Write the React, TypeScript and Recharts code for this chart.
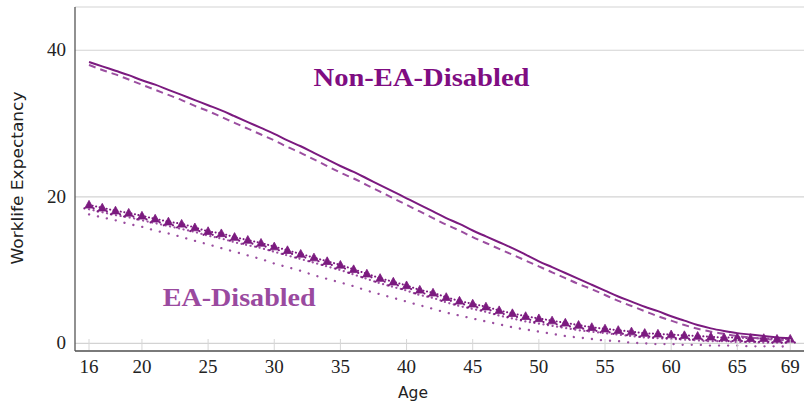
import React from 'react';
import { LineChart, Line, XAxis, YAxis, CartesianGrid, ReferenceDot } from 'recharts';

const ages = [16, 17, 18, 19, 20, 21, 22, 23, 24, 25, 26, 27, 28, 29, 30, 31, 32, 33, 34, 35, 36, 37, 38, 39, 40, 41, 42, 43, 44, 45, 46, 47, 48, 49, 50, 51, 52, 53, 54, 55, 56, 57, 58, 59, 60, 61, 62, 63, 64, 65, 66, 67, 68, 69];

const nonEaSolid = [38.4, 37.8, 37.2, 36.6, 35.9, 35.3, 34.6, 33.9, 33.2, 32.5, 31.8, 31.0, 30.2, 29.4, 28.6, 27.7, 26.9, 26.0, 25.1, 24.2, 23.4, 22.5, 21.6, 20.7, 19.8, 18.9, 18.0, 17.1, 16.3, 15.4, 14.6, 13.8, 13.0, 12.1, 11.2, 10.4, 9.6, 8.8, 8.0, 7.2, 6.4, 5.7, 5.0, 4.4, 3.7, 3.1, 2.5, 2.05, 1.7, 1.4, 1.2, 1.0, 0.8, 0.7];

const nonEaDashed = [38.0, 37.3, 36.7, 36.0, 35.3, 34.6, 33.9, 33.2, 32.4, 31.7, 30.9, 30.1, 29.3, 28.5, 27.7, 26.8, 26.0, 25.1, 24.2, 23.3, 22.5, 21.6, 20.7, 19.8, 18.9, 18.0, 17.1, 16.2, 15.4, 14.5, 13.7, 12.9, 12.1, 11.3, 10.5, 9.7, 8.9, 8.1, 7.4, 6.6, 5.8, 5.1, 4.4, 3.7, 3.1, 2.5, 2.0, 1.6, 1.3, 1.0, 0.8, 0.6, 0.5, 0.4];

const eaMarked = [18.9, 18.5, 18.1, 17.8, 17.4, 17.0, 16.6, 16.3, 15.8, 15.3, 15.0, 14.5, 14.1, 13.7, 13.2, 12.7, 12.2, 11.7, 11.2, 10.7, 10.1, 9.5, 8.9, 8.4, 7.9, 7.3, 6.9, 6.3, 5.8, 5.4, 5.0, 4.5, 4.1, 3.7, 3.4, 3.1, 2.8, 2.5, 2.2, 2.0, 1.8, 1.6, 1.4, 1.3, 1.2, 1.1, 1.0, 0.9, 0.8, 0.8, 0.7, 0.7, 0.6, 0.6];

const eaMid = [18.3, 17.9, 17.5, 17.2, 16.8, 16.4, 16.0, 15.6, 15.2, 14.7, 14.3, 13.8, 13.4, 13.0, 12.5, 12.0, 11.5, 11.0, 10.5, 10.0, 9.4, 8.8, 8.2, 7.7, 7.2, 6.6, 6.2, 5.6, 5.1, 4.7, 4.3, 3.8, 3.4, 3.0, 2.7, 2.4, 2.1, 1.8, 1.6, 1.4, 1.2, 1.0, 0.8, 0.7, 0.6, 0.5, 0.4, 0.3, 0.3, 0.2, 0.2, 0.1, 0.1, 0.1];

const eaLow = [17.6, 17.2, 16.8, 16.3, 15.9, 15.4, 15.0, 14.5, 14.0, 13.5, 13.0, 12.5, 12.0, 11.5, 10.9, 10.4, 9.9, 9.3, 8.8, 8.3, 7.8, 7.2, 6.7, 6.2, 5.7, 5.2, 4.7, 4.2, 3.8, 3.4, 3.0, 2.6, 2.2, 1.9, 1.6, 1.3, 1.0, 0.8, 0.6, 0.4, 0.3, 0.1, 0.0, -0.1, -0.1, -0.2, -0.2, -0.3, -0.3, -0.3, -0.4, -0.4, -0.4, -0.5];

const xTicks = [16, 20, 25, 30, 35, 40, 45, 50, 55, 60, 65, 69];
const yTicks = [0, 20, 40];

const nonEaLabel = { text: 'Non-EA-Disabled', age: 41.13, value: 35.1 };
const eaLabel = { text: 'EA-Disabled', age: 27.35, value: 5.1 };

const data = ages.map((age, i) => ({
  age,
  nonEaSolid: nonEaSolid[i],
  nonEaDashed: nonEaDashed[i],
  eaMarked: eaMarked[i],
  eaMid: eaMid[i],
  eaLow: eaLow[i],
}));

const DARK = '#7b1a7f';
const LIGHT = '#9b4ea0';
const TICK_FONT = "'Liberation Serif', 'DejaVu Serif', serif";
const SANS = "'DejaVu Sans', sans-serif";

const BottomTick = (props: any) => {
  const { x, y, payload } = props;
  return (
    <g>
      <line x1={x} x2={x} y1={y - 1} y2={y - 12} stroke="#d6d6d6" strokeWidth={1} />
      <text x={x} y={y + 22} textAnchor="middle" style={{ fontFamily: TICK_FONT, fontSize: 19 }} fill="#222">
        {payload.value}
      </text>
    </g>
  );
};

const TopTick = (props: any) => {
  const { x, y } = props;
  return <line x1={x} x2={x} y1={y + 1} y2={y + 11} stroke="#d6d6d6" strokeWidth={1} />;
};

const LeftTick = (props: any) => {
  const { x, y, payload } = props;
  return (
    <text x={x - 9} y={y + 6} textAnchor="end" style={{ fontFamily: TICK_FONT, fontSize: 19 }} fill="#222">
      {payload.value}
    </text>
  );
};

const TriangleDot = (props: any) => {
  const { cx, cy, index } = props;
  if (cx == null || cy == null) return <g key={`t-${index}`} />;
  const d = `M${cx},${cy - 4.5} L${cx + 4.2},${cy + 3.2} L${cx - 4.2},${cy + 3.2} Z`;
  return (
    <g key={`t-${index}`}>
      <path d={d} fill={DARK} stroke={DARK} strokeWidth={0.8} strokeLinejoin="round" />
      <circle cx={cx - 4.6} cy={cy + 3.6} r={1.1} fill={DARK} />
      <circle cx={cx + 4.6} cy={cy + 3.6} r={1.1} fill={DARK} />
    </g>
  );
};

const annotation = (text: string, color: string, len: number) => (props: any) => {
  const vb = props.viewBox || {};
  const cx = vb.x + (vb.width || 0) / 2;
  const cy = vb.y + (vb.height || 0) / 2;
  return (
    <text
      x={cx}
      y={cy}
      textAnchor="middle"
      style={{ fontFamily: "'Liberation Serif', serif", fontWeight: 'bold', fontSize: 25 }}
      fill={color}
      textLength={len}
      lengthAdjust="spacingAndGlyphs"
    >
      {text}
    </text>
  );
};

const YLabel = (props: any) => {
  const vb = props.viewBox || { x: 0, y: 7, width: 75, height: 344 };
  const x = vb.x + 18;
  const y = vb.y + vb.height / 2 - 1;
  return (
    <text
      x={x}
      y={y}
      transform={`rotate(-90, ${x}, ${y})`}
      textAnchor="middle"
      dominantBaseline="central"
      style={{ fontFamily: SANS, fontSize: 15.5 }}
      fill="#222"
      textLength={173}
      lengthAdjust="spacingAndGlyphs"
    >
      Worklife Expectancy
    </text>
  );
};

const XLabel = (props: any) => {
  const vb = props.viewBox || { x: 75, y: 351, width: 729, height: 56 };
  return (
    <text x={vb.x + 338} y={vb.y + 47} textAnchor="middle" style={{ fontFamily: SANS, fontSize: 15.5 }} fill="#222">
      Age
    </text>
  );
};

export default function App() {
  return (
    <div style={{ position: 'absolute', left: 0, top: 0, width: 804, height: 407, background: '#fff' }}>
      <LineChart width={804} height={407} data={data} margin={{ top: 7, right: 0, bottom: 0, left: 0 }}>
        <CartesianGrid vertical={false} stroke="#d3d3d3" strokeWidth={1.2} />
        <XAxis
          dataKey="age"
          type="number"
          domain={[14.94, 70.04]}
          ticks={xTicks}
          allowDataOverflow
          height={56}
          tickSize={0}
          tickMargin={0}
          tickLine={false}
          axisLine={{ stroke: '#555', strokeWidth: 1.3 }}
          tick={<BottomTick />}
          interval={0}
          label={<XLabel />}
        />
        <XAxis
          xAxisId="top"
          dataKey="age"
          type="number"
          orientation="top"
          domain={[14.94, 70.04]}
          ticks={xTicks}
          allowDataOverflow
          height={0}
          tickSize={0}
          tickMargin={0}
          tickLine={false}
          axisLine={{ stroke: '#555', strokeWidth: 1.3 }}
          tick={<TopTick />}
          interval={0}
        />
        <YAxis
          type="number"
          domain={[-1.04, 45.9]}
          ticks={yTicks}
          allowDataOverflow
          width={75}
          tickSize={0}
          tickMargin={0}
          tickLine={false}
          axisLine={{ stroke: '#555', strokeWidth: 1.3 }}
          tick={<LeftTick />}
          interval={0}
          label={<YLabel />}
        />
        <Line
          type="monotone"
          dataKey="eaLow"
          stroke={LIGHT}
          strokeWidth={2.3}
          strokeDasharray="0.1 9"
          strokeLinecap="round"
          dot={false}
          isAnimationActive={false}
        />
        <Line
          type="monotone"
          dataKey="eaMid"
          stroke={LIGHT}
          strokeWidth={2.2}
          strokeDasharray="0.1 4.5"
          strokeLinecap="round"
          dot={false}
          isAnimationActive={false}
        />
        <Line
          type="monotone"
          dataKey="eaMarked"
          stroke={DARK}
          strokeWidth={2}
          strokeDasharray="0.1 3.5"
          strokeLinecap="round"
          dot={TriangleDot}
          isAnimationActive={false}
        />
        <Line
          type="monotone"
          dataKey="nonEaDashed"
          stroke={LIGHT}
          strokeWidth={2}
          strokeDasharray="7 5"
          dot={false}
          isAnimationActive={false}
        />
        <Line
          type="monotone"
          dataKey="nonEaSolid"
          stroke={DARK}
          strokeWidth={2}
          dot={false}
          isAnimationActive={false}
        />
        <ReferenceDot
          x={nonEaLabel.age}
          y={nonEaLabel.value}
          r={1}
          fill="none"
          stroke="none"
          label={annotation(nonEaLabel.text, '#7f0d82', 216)}
        />
        <ReferenceDot
          x={eaLabel.age}
          y={eaLabel.value}
          r={1}
          fill="none"
          stroke="none"
          label={annotation(eaLabel.text, '#9a4a9f', 153)}
        />
      </LineChart>
    </div>
  );
}
